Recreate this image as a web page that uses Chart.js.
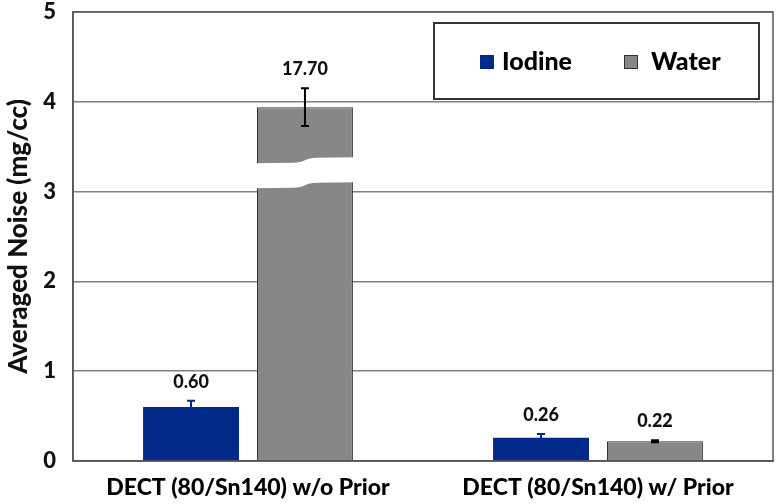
<!DOCTYPE html>
<html>
<head>
<meta charset="utf-8">
<script src="https://cdn.jsdelivr.net/npm/chart.js@4/dist/chart.umd.min.js"></script>
<style>
  html, body { margin: 0; padding: 0; background: #fff; }
  #wrap { width: 780px; height: 504px; }
</style>
</head>
<body>
<div id="wrap"><canvas id="barChart" width="780" height="504"></canvas></div>
<script>
const categories = ['DECT (80/Sn140) w/o Prior', 'DECT (80/Sn140) w/ Prior'];
const iodineValues = [0.60, 0.26];
const iodineErrors = [0.07, 0.04];
const waterValues = [17.70, 0.22];   // values printed over the bars
const waterPlotted = [3.94, 0.22];   // bar heights on the broken axis
const waterErrors = [0.21, 0.012];
const yTicks = [0, 1, 2, 3, 4, 5];
const axisBreak = [3.07, 3.35];      // white band cut through the tall water bar

const FONT = 'Lato, "Open Sans", sans-serif';
const W = 900;
const IODINE_COLOR = '#00298a';
const WATER_COLOR = '#878787';

const overlayPlugin = {
    id: 'overlay',
    afterDatasetsDraw(chart) {
        const ctx = chart.ctx;
        const y = chart.scales.y;
        const area = chart.chartArea;

        // axis break on the first water bar
        const wb = chart.getDatasetMeta(1).data[0];
        const half = wb.width / 2 + 2;
        const yTop = y.getPixelForValue(axisBreak[1]);
        const yBot = y.getPixelForValue(axisBreak[0]);
        const wave = (x0, x1, yy) => {
            // lower on the left, rises through the middle
            const mid = (x0 + x1) / 2;
            return [[x0, yy + 3], [mid - 12, yy + 2.5], [mid + 12, yy - 2.5], [x1, yy - 3]];
        };
        const top = wave(wb.x - half, wb.x + half, yTop);
        const bot = wave(wb.x - half, wb.x + half, yBot);
        ctx.save();
        ctx.fillStyle = '#fff';
        ctx.beginPath();
        ctx.moveTo(top[0][0], top[0][1]);
        ctx.lineTo(top[1][0], top[1][1]);
        ctx.bezierCurveTo(top[1][0] + 12, top[1][1], top[2][0] - 12, top[2][1], top[2][0], top[2][1]);
        ctx.lineTo(top[3][0], top[3][1]);
        ctx.lineTo(bot[3][0], bot[3][1]);
        ctx.lineTo(bot[2][0], bot[2][1]);
        ctx.bezierCurveTo(bot[2][0] - 12, bot[2][1], bot[1][0] + 12, bot[1][1], bot[1][0], bot[1][1]);
        ctx.lineTo(bot[0][0], bot[0][1]);
        ctx.closePath();
        ctx.fill();

        // error bars + value labels
        const series = [
            { meta: chart.getDatasetMeta(0), vals: iodineValues, plotted: iodineValues, err: iodineErrors, color: IODINE_COLOR },
            { meta: chart.getDatasetMeta(1), vals: waterValues, plotted: waterPlotted, err: waterErrors, color: '#000' }
        ];
        series.forEach(s => {
            s.meta.data.forEach((bar, i) => {
                const hi = y.getPixelForValue(s.plotted[i] + s.err[i]);
                const lo = y.getPixelForValue(s.plotted[i] - s.err[i]);
                ctx.strokeStyle = s.color;
                ctx.lineWidth = 2;
                ctx.beginPath();
                ctx.moveTo(bar.x, hi); ctx.lineTo(bar.x, lo);
                ctx.moveTo(bar.x - 4, hi); ctx.lineTo(bar.x + 4, hi);
                ctx.moveTo(bar.x - 4, lo); ctx.lineTo(bar.x + 4, lo);
                ctx.stroke();

                ctx.fillStyle = '#111';
                ctx.font = W + ' 18px ' + FONT;
                ctx.textAlign = 'center';
                ctx.textBaseline = 'middle';
                ctx.fillText(s.vals[i].toFixed(2), bar.x, hi - 19);
            });
        });

        // plot frame
        ctx.strokeStyle = '#555';
        ctx.lineWidth = 1.5;
        ctx.strokeRect(area.left, area.top, area.right - area.left, area.bottom - area.top);

        // legend box
        const lx = 434, ly = 23, lw = 325, lh = 76;
        ctx.fillStyle = '#fff';
        ctx.fillRect(lx, ly, lw, lh);
        ctx.strokeStyle = '#333';
        ctx.lineWidth = 2;
        ctx.strokeRect(lx, ly, lw, lh);
        ctx.font = W + ' 25px ' + FONT;
        ctx.textAlign = 'left';
        ctx.textBaseline = 'middle';
        ctx.fillStyle = IODINE_COLOR;
        ctx.fillRect(480, 55, 14, 14);
        ctx.fillStyle = '#000';
        ctx.fillText('Iodine', 502, 62);
        ctx.fillStyle = WATER_COLOR;
        ctx.fillRect(624, 55, 14, 14);
        ctx.strokeStyle = '#333';
        ctx.lineWidth = 1;
        ctx.strokeRect(624.5, 55.5, 13, 13);
        ctx.fillStyle = '#000';
        ctx.fillText('Water', 651, 62);
        ctx.restore();
    }
};

const ctx = document.getElementById('barChart').getContext('2d');
new Chart(ctx, {
    type: 'bar',
    data: {
        labels: categories,
        datasets: [
            {
                label: 'Iodine',
                data: iodineValues,
                backgroundColor: IODINE_COLOR,
                borderWidth: 0
            },
            {
                label: 'Water',
                data: waterPlotted,
                backgroundColor: WATER_COLOR,
                borderColor: '#333',
                borderWidth: 1
            }
        ]
    },
    options: {
        responsive: false,
        animation: false,
        layout: { padding: { top: 0, right: 7, left: 0, bottom: 0 } },
        categoryPercentage: 0.651,
        barPercentage: 0.842,
        plugins: {
            legend: { display: false },
            tooltip: { enabled: false }
        },
        scales: {
            x: {
                grid: { display: false, drawTicks: false },
                border: { display: true, color: '#555', width: 1.5 },
                ticks: {
                    color: '#000',
                    padding: 13,
                    font: { family: FONT, size: 23, weight: W }
                },
                afterFit(scale) { scale.height = 43; }
            },
            y: {
                min: 0,
                max: 5,
                afterBuildTicks(scale) { scale.ticks = yTicks.map(v => ({ value: v })); },
                grid: { color: '#808080', lineWidth: 1.5, drawTicks: false },
                border: { display: true, color: '#555', width: 1.5 },
                ticks: {
                    color: '#111',
                    padding: 17,
                    font: { family: FONT, size: 22, weight: W }
                },
                title: {
                    display: true,
                    text: 'Averaged Noise (mg/cc)',
                    color: '#111',
                    padding: { top: 3, bottom: 0 },
                    font: { family: FONT, size: 26, weight: W }
                },
                afterFit(scale) {
                    scale.width = 73;
                    scale.paddingTop = 12;
                    scale.paddingBottom = 0;
                }
            }
        }
    },
    plugins: [overlayPlugin]
});
</script>
</body>
</html>
